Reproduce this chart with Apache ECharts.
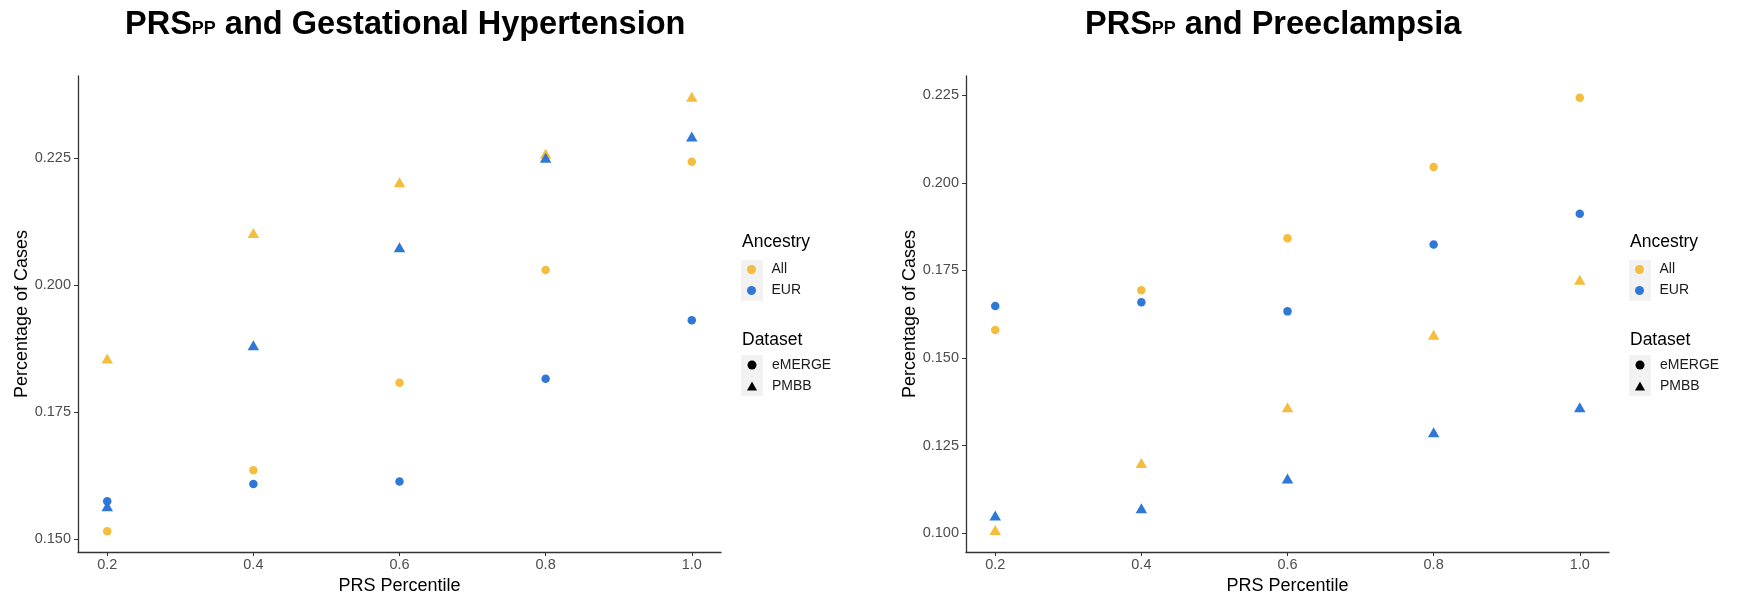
<!DOCTYPE html>
<html>
<head>
<meta charset="utf-8">
<title>PRSpp scatter</title>
<script src="https://cdn.jsdelivr.net/npm/echarts@6/dist/echarts.min.js"></script>
<style>
  html, body { margin: 0; padding: 0; background: #fff; }
  #chart { width: 1737px; height: 605px; }
</style>
</head>
<body>
<div id="chart"></div>
<script>
// ── Data ──────────────────────────────────────────────────────────────────
const prsPercentile = [0.2, 0.4, 0.6, 0.8, 1.0]
const xTicks = [0.2, 0.4, 0.6, 0.8, 1.0]

// Gestational hypertension
const ghAllEmerge = [0.1515, 0.1635, 0.1807, 0.2029, 0.2242]
const ghAllPmbb   = [0.1855, 0.2102, 0.2202, 0.2258, 0.2370]
const ghEurEmerge = [0.1574, 0.1608, 0.1613, 0.1815, 0.1930]
const ghEurPmbb   = [0.1564, 0.1881, 0.2074, 0.2250, 0.2292]
const ghTicks = [0.150, 0.175, 0.200, 0.225]

// Preeclampsia
const peAllEmerge = [0.1580, 0.1693, 0.1842, 0.2045, 0.2243]
const peAllPmbb   = [0.1009, 0.1200, 0.1359, 0.1566, 0.1723]
const peEurEmerge = [0.1648, 0.1659, 0.1633, 0.1824, 0.1912]
const peEurPmbb   = [0.1050, 0.1071, 0.1156, 0.1288, 0.1359]
const peTicks = [0.100, 0.125, 0.150, 0.175, 0.200, 0.225]

const ancestryNames = ['All', 'EUR']
const datasetNames = ['eMERGE', 'PMBB']

// ── Style ─────────────────────────────────────────────────────────────────
const YELLOW = '#F5BD3D'
const BLUE = '#2F78D8'
const FONT = "'Liberation Sans', Arial, sans-serif"
const AXIS_COLOR = '#333333'

const pairs = (ys) => prsPercentile.map((x, i) => [x, ys[i]])

function pointSeries(name, ys, color, shape, idx) {
  return {
    name,
    type: 'scatter',
    xAxisIndex: idx,
    yAxisIndex: idx,
    symbol: shape,
    symbolSize: shape === 'triangle' ? [11.5, 10] : 8.5,
    itemStyle: { color, opacity: 1 },
    data: pairs(ys),
    silent: true
  }
}

function xAxisDef(idx) {
  return {
    type: 'value',
    gridIndex: idx,
    min: 0.16,
    max: 1.04,
    name: 'PRS Percentile',
    nameLocation: 'middle',
    nameGap: 22,
    nameTextStyle: { fontFamily: FONT, fontSize: 18, color: '#000' },
    axisLine: { show: true, lineStyle: { color: AXIS_COLOR, width: 1.3 } },
    axisTick: { show: true, length: 4, customValues: xTicks, lineStyle: { color: AXIS_COLOR, width: 1 } },
    axisLabel: {
      customValues: xTicks,
      margin: 5,
      fontFamily: FONT,
      fontSize: 14.5,
      color: '#4d4d4d',
      formatter: (v) => v.toFixed(1)
    },
    splitLine: { show: false }
  }
}

function yAxisDef(idx, min, max, ticks) {
  return {
    type: 'value',
    gridIndex: idx,
    min,
    max,
    name: 'Percentage of Cases',
    nameLocation: 'middle',
    nameGap: 47,
    nameTextStyle: { fontFamily: FONT, fontSize: 18, color: '#000' },
    axisLine: { show: true, lineStyle: { color: AXIS_COLOR, width: 1.3 } },
    axisTick: { show: true, length: 4, customValues: ticks, lineStyle: { color: AXIS_COLOR, width: 1 } },
    axisLabel: {
      customValues: ticks,
      margin: 7,
      fontFamily: FONT,
      fontSize: 14.5,
      color: '#4d4d4d',
      formatter: (v) => v.toFixed(3)
    },
    splitLine: { show: false }
  }
}

function titleDef(left, rest) {
  return {
    left,
    top: 6,
    padding: 0,
    text: '{a|PRS}{b|PP}{a|' + rest + '}',
    textStyle: {
      rich: {
        a: { fontFamily: FONT, fontWeight: 'bold', fontSize: 32.5, lineHeight: 36, color: '#000', verticalAlign: 'bottom' },
        b: { fontFamily: FONT, fontWeight: 'bold', fontSize: 18, lineHeight: 20, color: '#000', verticalAlign: 'bottom', padding: [0, 0, 4, 0] }
      }
    }
  }
}

function legendDef(left, top, names, icons, colors) {
  return {
    orient: 'vertical',
    left,
    top,
    padding: 0,
    itemWidth: 10,
    itemHeight: 9,
    itemGap: 5,
    selectedMode: false,
    data: names.map((n, i) => ({
      name: n,
      icon: icons[i],
      itemStyle: { color: colors[i], opacity: 1, borderWidth: 0 }
    })),
    textStyle: { fontFamily: FONT, fontSize: 14, color: '#1a1a1a', lineHeight: 16, padding: [0, 0, 0, 10] }
  }
}

function legendDecor(x) {
  return [
    { type: 'rect', shape: { x, y: 260, width: 22, height: 41 }, style: { fill: '#f2f2f2' }, z: 0 },
    { type: 'rect', shape: { x, y: 355, width: 22, height: 41 }, style: { fill: '#f2f2f2' }, z: 0 },
    { type: 'text', x: x + 1, y: 242, style: { text: 'Ancestry', font: '17.5px ' + FONT, fill: '#000', verticalAlign: 'middle' }, z: 5 },
    { type: 'text', x: x + 1, y: 340.5, style: { text: 'Dataset', font: '17.5px ' + FONT, fill: '#000', verticalAlign: 'middle' }, z: 5 }
  ]
}

// ── Chart ─────────────────────────────────────────────────────────────────
const chart = echarts.init(document.getElementById('chart'), null, { renderer: 'canvas' })

const option = {
  backgroundColor: '#ffffff',
  animation: false,
  title: [
    titleDef(125, ' and Gestational Hypertension'),
    titleDef(1085, ' and Preeclampsia')
  ],
  grid: [
    { left: 78, right: 1737 - 721, top: 76, bottom: 605 - 552 },
    { left: 966, right: 1737 - 1609, top: 76, bottom: 605 - 552 }
  ],
  xAxis: [xAxisDef(0), xAxisDef(1)],
  yAxis: [
    yAxisDef(0, 0.1474, 0.2411, ghTicks),
    yAxisDef(1, 0.0946, 0.2305, peTicks)
  ],
  legend: [
    legendDef(747, 261.5, ancestryNames, ['circle', 'circle'], [YELLOW, BLUE]),
    legendDef(747, 357, datasetNames, ['circle', 'triangle'], ['#000', '#000']),
    legendDef(1635, 261.5, ancestryNames, ['circle', 'circle'], [YELLOW, BLUE]),
    legendDef(1635, 357, datasetNames, ['circle', 'triangle'], ['#000', '#000'])
  ],
  graphic: [...legendDecor(741), ...legendDecor(1629)],
  series: [
    pointSeries('GH All eMERGE', ghAllEmerge, YELLOW, 'circle', 0),
    pointSeries('GH All PMBB', ghAllPmbb, YELLOW, 'triangle', 0),
    pointSeries('GH EUR eMERGE', ghEurEmerge, BLUE, 'circle', 0),
    pointSeries('GH EUR PMBB', ghEurPmbb, BLUE, 'triangle', 0),
    pointSeries('PE All eMERGE', peAllEmerge, YELLOW, 'circle', 1),
    pointSeries('PE All PMBB', peAllPmbb, YELLOW, 'triangle', 1),
    pointSeries('PE EUR eMERGE', peEurEmerge, BLUE, 'circle', 1),
    pointSeries('PE EUR PMBB', peEurPmbb, BLUE, 'triangle', 1),
    // legend-only entries
    { name: 'All', type: 'scatter', data: [], itemStyle: { color: YELLOW } },
    { name: 'EUR', type: 'scatter', data: [], itemStyle: { color: BLUE } },
    { name: 'eMERGE', type: 'scatter', data: [], itemStyle: { color: '#000' } },
    { name: 'PMBB', type: 'scatter', data: [], itemStyle: { color: '#000' } }
  ]
}

chart.setOption(option)
</script>
</body>
</html>
